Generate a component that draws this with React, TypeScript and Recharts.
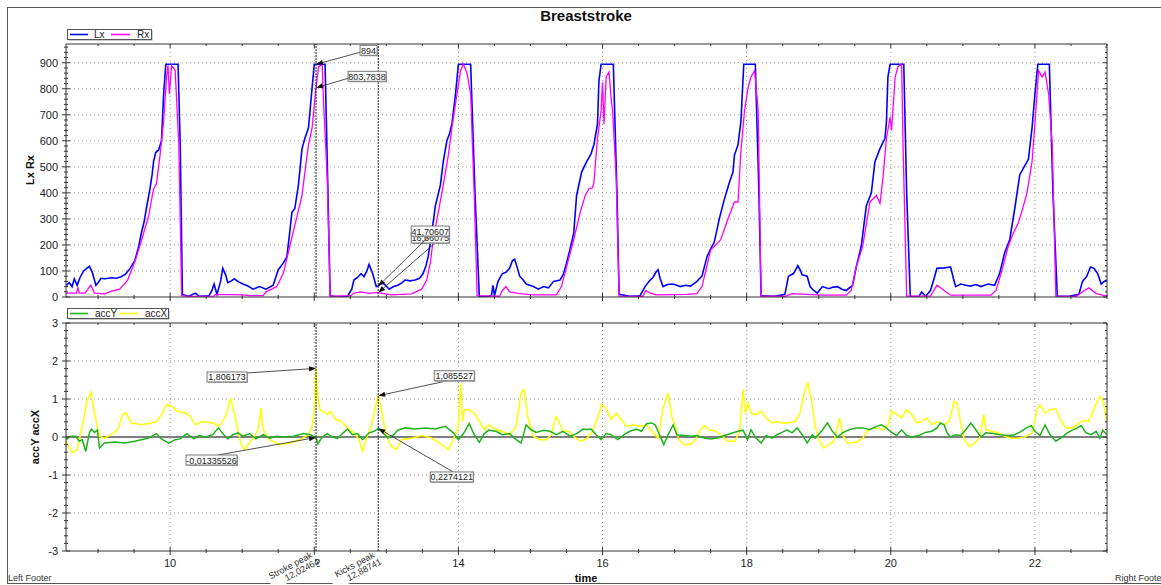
import React from 'react';
import { LineChart, Line, XAxis, YAxis, ReferenceLine, ReferenceDot } from 'recharts';

// time / value samples
const LX: [number, number][] = [
  [8.56, 45], [8.6, 55], [8.64, 40], [8.67, 70], [8.71, 45], [8.75, 75], [8.8, 100], [8.85, 112], [8.88, 118],
  [8.92, 95], [8.97, 45], [9.0, 55], [9.04, 72], [9.1, 70], [9.18, 74], [9.25, 72], [9.32, 78], [9.38, 88],
  [9.44, 108], [9.51, 140], [9.56, 190], [9.6, 245], [9.64, 290], [9.67, 340], [9.72, 415], [9.75, 470],
  [9.77, 520], [9.8, 555], [9.84, 565], [9.88, 600], [9.91, 780], [9.94, 894], [10.11, 894], [10.14, 585],
  [10.17, 10], [10.26, 3], [10.35, 15], [10.4, 3], [10.54, 5], [10.58, 25], [10.61, 50], [10.65, 10],
  [10.7, 60], [10.73, 110], [10.77, 85], [10.8, 55], [10.85, 62], [10.89, 70], [10.95, 58], [11.01, 50],
  [11.08, 42], [11.15, 30], [11.24, 40], [11.33, 30], [11.43, 45], [11.5, 105], [11.57, 130], [11.62, 155],
  [11.66, 250], [11.69, 325], [11.73, 340], [11.78, 430], [11.83, 570], [11.87, 610], [11.92, 650],
  [11.97, 805], [12.0, 894], [12.15, 894], [12.19, 400], [12.22, 5], [12.32, 0], [12.46, 2], [12.52, 30],
  [12.55, 65], [12.6, 75], [12.65, 90], [12.69, 78], [12.73, 100], [12.76, 125], [12.81, 90], [12.86, 40],
  [12.88741, 41.70607], [12.93, 55], [12.97, 50], [13.04, 30], [13.1, 40], [13.16, 45], [13.22, 55],
  [13.26, 65], [13.33, 62], [13.4, 65], [13.46, 72], [13.51, 90], [13.55, 120], [13.58, 155], [13.63, 245],
  [13.68, 350], [13.75, 430], [13.79, 520], [13.84, 600], [13.88, 630], [13.91, 665], [13.96, 780],
  [14.0, 894], [14.17, 894], [14.23, 400], [14.29, 3], [14.43, 2], [14.46, 8], [14.48, 45], [14.5, 5],
  [14.55, 60], [14.61, 90], [14.66, 95], [14.71, 110], [14.75, 140], [14.78, 145], [14.82, 110], [14.85, 80],
  [14.9, 65], [14.94, 50], [15.04, 40], [15.11, 30], [15.18, 40], [15.25, 35], [15.32, 60], [15.41, 65],
  [15.46, 90], [15.5, 130], [15.55, 185], [15.6, 245], [15.64, 390], [15.71, 480], [15.78, 520],
  [15.84, 550], [15.88, 585], [15.93, 665], [15.95, 830], [15.98, 894], [16.15, 894], [16.2, 400],
  [16.23, 10], [16.38, 3], [16.52, 5], [16.59, 40], [16.66, 65], [16.7, 75], [16.74, 95], [16.77, 105],
  [16.8, 70], [16.84, 40], [16.9, 48], [16.98, 50], [17.08, 40], [17.15, 45], [17.22, 42], [17.31, 60],
  [17.38, 80], [17.45, 155], [17.5, 185], [17.55, 210], [17.62, 300], [17.69, 375], [17.76, 440],
  [17.81, 480], [17.83, 545], [17.88, 585], [17.92, 675], [17.96, 894], [18.12, 894], [18.17, 400],
  [18.2, 5], [18.39, 3], [18.53, 10], [18.58, 80], [18.65, 90], [18.71, 120], [18.74, 105], [18.77, 85],
  [18.84, 80], [18.88, 40], [18.93, 25], [18.98, 15], [19.05, 40], [19.14, 32], [19.2, 38], [19.26, 40],
  [19.32, 30], [19.38, 25], [19.47, 45], [19.52, 115], [19.59, 195], [19.66, 350], [19.73, 400],
  [19.78, 520], [19.85, 570], [19.92, 610], [19.94, 675], [19.96, 845], [19.99, 894], [20.18, 894],
  [20.22, 400], [20.27, 3], [20.39, 2], [20.43, 20], [20.48, 2], [20.55, 25], [20.6, 70], [20.64, 110],
  [20.74, 112], [20.83, 115], [20.87, 70], [20.9, 40], [20.97, 50], [21.04, 45], [21.11, 42], [21.18, 48],
  [21.25, 40], [21.35, 50], [21.44, 45], [21.51, 90], [21.58, 170], [21.65, 220], [21.72, 340],
  [21.79, 470], [21.86, 505], [21.91, 530], [21.96, 650], [22.0, 780], [22.04, 894], [22.2, 894],
  [22.25, 400], [22.31, 3], [22.47, 3], [22.61, 10], [22.66, 60], [22.72, 80], [22.77, 115], [22.82, 110],
  [22.87, 90], [22.92, 50], [22.96, 60], [23.0, 65],
];

const RX: [number, number][] = [
  [8.56, 15], [8.7, 15], [8.72, 35], [8.74, 15], [8.82, 15], [8.87, 35], [8.9, 45], [8.95, 15], [9.09, 12],
  [9.18, 22], [9.3, 30], [9.41, 65], [9.51, 135], [9.6, 215], [9.7, 310], [9.77, 415], [9.81, 435],
  [9.86, 545], [9.91, 675], [9.95, 845], [9.97, 890], [9.99, 780], [10.02, 890], [10.07, 870], [10.12, 585],
  [10.16, 5], [10.26, 2], [10.61, 3], [10.63, 10], [11.01, 8], [11.1, 5], [11.29, 5], [11.33, 20],
  [11.48, 40], [11.57, 90], [11.66, 195], [11.76, 310], [11.83, 390], [11.87, 480], [11.92, 585],
  [11.97, 650], [12.02464, 803.7838], [12.06, 885], [12.11, 895], [12.13, 740], [12.18, 455], [12.22, 3],
  [12.51, 5], [12.55, 15], [12.65, 20], [12.74, 15], [12.88741, 16.66075], [13.07, 8], [13.35, 12],
  [13.49, 30], [13.56, 65], [13.61, 130], [13.65, 220], [13.72, 325], [13.79, 430], [13.86, 545],
  [13.91, 650], [13.98, 780], [14.03, 870], [14.07, 895], [14.12, 860], [14.17, 780], [14.22, 390],
  [14.26, 5], [14.57, 3], [14.61, 25], [14.66, 40], [14.71, 20], [14.85, 13], [15.04, 8], [15.36, 8],
  [15.43, 40], [15.5, 115], [15.6, 220], [15.69, 325], [15.76, 390], [15.81, 415], [15.86, 420],
  [15.88, 440], [15.93, 610], [15.98, 715], [16.0, 825], [16.02, 665], [16.05, 845], [16.09, 865],
  [16.12, 760], [16.14, 715], [16.19, 455], [16.23, 3], [16.56, 2], [16.6, 25], [16.66, 15], [16.75, 8],
  [17.17, 10], [17.31, 13], [17.38, 40], [17.5, 180], [17.64, 220], [17.74, 300], [17.83, 365],
  [17.88, 365], [17.92, 560], [17.97, 715], [18.02, 805], [18.06, 845], [18.11, 870], [18.16, 715],
  [18.2, 3], [18.53, 2], [18.63, 13], [19.05, 7], [19.38, 7], [19.45, 25], [19.52, 115], [19.61, 195],
  [19.71, 365], [19.8, 390], [19.85, 360], [19.89, 455], [19.94, 610], [19.99, 690], [20.01, 640],
  [20.06, 845], [20.1, 885], [20.15, 895], [20.17, 585], [20.22, 3], [20.55, 3], [20.64, 45], [20.74, 25],
  [20.83, 7], [21.39, 7], [21.46, 25], [21.53, 90], [21.63, 195], [21.7, 245], [21.77, 285], [21.84, 350],
  [21.89, 400], [21.96, 520], [22.0, 665], [22.05, 870], [22.1, 845], [22.14, 865], [22.19, 780],
  [22.24, 585], [22.29, 3], [22.57, 2], [22.66, 20], [22.75, 35], [22.85, 13], [23.0, 3],
];

const ACC_Y: [number, number][] = [
  [8.56, -0.07], [8.62, 0.02], [8.69, 0.02], [8.74, -0.11], [8.78, -0.07], [8.83, -0.38], [8.88, 0.11],
  [8.91, 0.21], [8.95, 0.12], [8.99, 0.18], [9.02, -0.29], [9.09, -0.16], [9.23, -0.13], [9.37, -0.16],
  [9.51, -0.11], [9.6, -0.07], [9.7, -0.03], [9.81, 0.09], [9.88, -0.05], [9.98, -0.16], [10.07, -0.07],
  [10.14, -0.05], [10.23, 0.09], [10.33, -0.05], [10.4, 0.04], [10.49, 0], [10.59, 0.06], [10.67, 0.24],
  [10.73, 0.09], [10.8, -0.05], [10.87, 0.06], [10.94, 0.11], [11.01, 0.02], [11.1, 0.09], [11.19, -0.05],
  [11.29, 0.06], [11.38, -0.03], [11.48, 0.02], [11.57, 0], [11.71, 0.02], [11.85, 0.09], [11.95, 0.06],
  [12.02464, -0.01335526], [12.05, -0.18], [12.11, 0], [12.18, 0.09], [12.25, 0], [12.32, -0.04],
  [12.39, 0.09], [12.46, 0.21], [12.53, 0.06], [12.6, 0.09], [12.67, -0.07], [12.76, 0.11], [12.83, 0.15],
  [12.88741, 0.2274121], [12.95, 0.12], [13.02, -0.03], [13.09, 0.04], [13.16, 0.18], [13.26, 0.24],
  [13.4, 0.21], [13.54, 0.24], [13.68, 0.21], [13.82, 0.28], [13.93, 0.11], [14.0, -0.07], [14.07, 0.09],
  [14.15, 0.35], [14.22, 0.06], [14.29, -0.14], [14.36, 0.09], [14.42, 0.18], [14.52, 0.15], [14.61, 0.06],
  [14.71, 0.09], [14.8, -0.07], [14.87, -0.16], [14.94, 0.32], [15.01, 0.19], [15.08, 0.12], [15.18, 0.18],
  [15.27, 0.15], [15.36, 0.06], [15.45, 0.15], [15.55, 0.02], [15.64, 0.09], [15.73, 0.21], [15.78, 0.2],
  [15.84, 0.21], [15.91, 0.06], [15.98, -0.07], [16.05, 0.09], [16.12, 0.06], [16.21, -0.07], [16.3, 0.06],
  [16.38, 0.15], [16.47, 0.21], [16.54, 0.15], [16.61, 0.35], [16.68, 0.37], [16.73, 0.32], [16.77, 0.15],
  [16.82, -0.07], [16.85, -0.2], [16.91, 0.06], [16.98, 0.32], [17.03, 0.06], [17.13, 0.04], [17.22, 0.02],
  [17.31, 0.04], [17.41, -0.03], [17.5, -0.05], [17.59, -0.03], [17.69, 0.04], [17.78, 0.09], [17.88, 0.15],
  [17.95, 0.18], [18.01, -0.07], [18.06, 0.19], [18.13, -0.03], [18.2, -0.16], [18.27, 0.04], [18.35, -0.03],
  [18.42, 0.06], [18.49, 0.12], [18.56, 0.19], [18.63, 0.11], [18.7, 0.24], [18.77, 0.06], [18.84, -0.16],
  [18.91, 0.06], [18.95, -0.03], [19.05, 0.18], [19.12, 0.37], [19.19, 0.15], [19.26, 0], [19.33, 0.11],
  [19.42, 0.19], [19.52, 0.24], [19.61, 0.24], [19.71, 0.19], [19.8, 0.28], [19.87, 0.32], [19.94, 0.24],
  [20.01, 0.12], [20.08, 0.04], [20.15, 0.19], [20.22, 0.04], [20.29, 0], [20.39, 0.04], [20.48, 0.12],
  [20.57, 0.15], [20.64, 0.24], [20.69, 0.37], [20.74, 0.32], [20.78, 0.11], [20.83, 0], [20.9, 0.06],
  [20.97, 0.04], [21.04, 0.19], [21.11, 0.37], [21.18, 0.19], [21.25, 0], [21.32, 0.11], [21.42, 0.09],
  [21.51, 0.06], [21.63, 0.04], [21.72, 0.06], [21.81, 0.15], [21.88, 0.24], [21.95, 0.3], [22.0, 0.15],
  [22.07, 0.04], [22.14, 0.32], [22.21, 0.06], [22.29, -0.11], [22.38, 0], [22.45, 0.11], [22.52, 0.18],
  [22.59, 0.24], [22.64, 0.3], [22.71, 0.11], [22.78, 0.06], [22.85, 0.15], [22.9, -0.03], [22.94, 0.18],
  [23.0, 0.06],
];

const ACC_X: [number, number][] = [
  [8.56, -0.12], [8.64, -0.42], [8.71, -0.33], [8.78, 0.28], [8.85, 0.98], [8.9, 1.18], [8.95, 0.63],
  [9.02, 0.02], [9.09, -0.03], [9.18, 0.06], [9.27, 0.19], [9.34, 0.59], [9.39, 0.63], [9.46, 0.37],
  [9.6, 0.32], [9.74, 0.37], [9.81, 0.41], [9.88, 0.59], [9.95, 0.85], [10.02, 0.81], [10.09, 0.68],
  [10.21, 0.63], [10.28, 0.54], [10.35, 0.32], [10.44, 0.41], [10.59, 0.37], [10.68, 0.28], [10.77, 0.54],
  [10.84, 1.03], [10.91, 0.46], [10.98, -0.16], [11.03, -0.33], [11.1, -0.16], [11.17, 0.02], [11.22, 0.19],
  [11.26, 0.76], [11.29, 0.19], [11.38, -0.07], [11.52, -0.2], [11.66, -0.16], [11.8, -0.07], [11.92, 0.06],
  [11.97, 0.28], [12.0, 0.72], [12.02464, 1.806173], [12.04, 1.16], [12.08, 0.72], [12.18, 0.59],
  [12.22, 0.68], [12.3, 0.46], [12.37, 0.41], [12.46, 0.24], [12.55, 0.11], [12.62, -0.07], [12.67, -0.38],
  [12.72, -0.07], [12.79, 0.28], [12.86, 0.89], [12.88741, 1.085527], [12.93, 0.72], [13.0, 0.02],
  [13.07, -0.25], [13.14, -0.33], [13.21, -0.07], [13.35, -0.03], [13.49, 0.04], [13.63, -0.03],
  [13.77, -0.2], [13.86, -0.33], [13.93, -0.07], [14.0, 0.28], [14.03, 1.42], [14.06, 0.41], [14.08, 0.72],
  [14.15, 0.72], [14.22, 0.63], [14.29, 0.41], [14.36, 0.19], [14.42, 0.32], [14.52, 0.19], [14.61, 0.15],
  [14.71, 0.06], [14.8, 0.28], [14.87, 1.16], [14.91, 1.25], [14.96, 0.54], [15.04, 0.02], [15.13, -0.07],
  [15.22, -0.07], [15.29, 0.06], [15.35, 0.54], [15.38, 0.46], [15.45, 0.15], [15.53, 0.15], [15.6, 0.02],
  [15.69, -0.11], [15.78, -0.05], [15.86, 0.15], [15.93, 0.5], [15.99, 0.85], [16.05, 0.76], [16.12, 0.46],
  [16.19, 0.63], [16.26, 0.46], [16.33, 0.28], [16.42, 0.32], [16.52, 0.28], [16.61, 0.32], [16.7, 0.11],
  [16.77, -0.03], [16.84, 0.76], [16.91, 1.16], [16.96, 0.54], [17.01, 0.28], [17.06, -0.07], [17.13, -0.2],
  [17.22, -0.2], [17.29, -0.07], [17.36, 0.19], [17.41, 0.3], [17.48, 0.19], [17.57, 0.15], [17.64, 0.06],
  [17.74, -0.11], [17.83, -0.11], [17.9, 0.11], [17.95, 1.25], [17.98, 0.63], [18.02, 0.89], [18.06, 0.63],
  [18.13, 0.59], [18.2, 0.68], [18.27, 0.5], [18.35, 0.37], [18.42, 0.41], [18.49, 0.37], [18.58, 0.37],
  [18.67, 0.41], [18.74, 0.63], [18.81, 1.25], [18.85, 1.42], [18.9, 0.98], [18.95, 0.28], [19.0, -0.07],
  [19.07, -0.29], [19.14, -0.2], [19.21, -0.11], [19.26, 0.28], [19.29, 0.5], [19.33, 0.06], [19.4, -0.16],
  [19.52, -0.14], [19.61, -0.03], [19.68, 0.19], [19.8, 0.24], [19.89, 0.19], [19.96, 0.32], [20.01, 0.68],
  [20.08, 0.59], [20.15, 0.5], [20.22, 0.72], [20.29, 0.59], [20.36, 0.37], [20.43, 0.41], [20.5, 0.5],
  [20.57, 0.32], [20.64, 0.41], [20.74, 0.32], [20.81, 0.41], [20.88, 0.94], [20.92, 0.89], [20.97, 0.37],
  [21.02, -0.07], [21.09, -0.25], [21.16, -0.16], [21.23, -0.03], [21.29, 0.59], [21.32, 0.19], [21.39, 0.15],
  [21.49, 0.11], [21.58, 0.02], [21.67, -0.03], [21.76, -0.03], [21.86, 0], [21.96, 0.11], [22.03, 0.72],
  [22.07, 0.85], [22.14, 0.63], [22.21, 0.72], [22.29, 0.74], [22.36, 0.41], [22.43, 0.24], [22.52, 0.24],
  [22.61, 0.37], [22.68, 0.43], [22.75, 0.41], [22.82, 0.76], [22.9, 1.07], [22.94, 0.98], [23.0, 0.41],
];

const X_DOMAIN: [number, number] = [8.555, 23];
const X_MAJOR = [10, 12, 14, 16, 18, 20, 22];
const X_TICKS = [9, 9.5, 10, 10.5, 11, 11.5, 12, 12.5, 13, 13.5, 14, 14.5, 15, 15.5, 16, 16.5, 17, 17.5, 18, 18.5, 19, 19.5, 20, 20.5, 21, 21.5, 22, 22.5, 23];

const LR_DOMAIN: [number, number] = [0, 972];
const LR_MAJOR = [0, 100, 200, 300, 400, 500, 600, 700, 800, 900];
const LR_TICKS = Array.from({ length: 49 }, (_, i) => i * 20);

const ACC_DOMAIN: [number, number] = [-3, 3];
const ACC_MAJOR = [-3, -2, -1, 0, 1, 2, 3];
const ACC_TICKS = Array.from({ length: 31 }, (_, i) => Math.round((-3 + i * 0.2) * 10) / 10);

const MARKERS = [
  { t: 12.02464, name: 'Stroke peak', label: '12,02464' },
  { t: 12.88741, name: 'Kicks peak', label: '12,88741' },
];

const LR_CALLOUTS = [
  { t: 12.02464, v: 894, text: '894' },
  { t: 12.02464, v: 803.7838, text: '803,7838' },
  { t: 12.88741, v: 16.66075, text: '16,66075' },
  { t: 12.88741, v: 41.70607, text: '41,70607' },
];

const ACC_CALLOUTS = [
  { t: 12.02464, v: 1.806173, text: '1,806173' },
  { t: 12.02464, v: -0.01335526, text: '-0,01335526' },
  { t: 12.88741, v: 1.085527, text: '1,085527' },
  { t: 12.88741, v: 0.2274121, text: '0,2274121' },
];

// box placement relative to the pointed value, in px
const LR_BOXES = [
  { bx: 44, by: -19, w: 17, sx: 44, sy: -12 },
  { bx: 32, by: -16.5, w: 38, sx: 32, sy: -9.5 },
  { bx: 33, by: -59.7, w: 38, sx: 58, sy: -50.7 },
  { bx: 33, by: -60.1, w: 38, sx: 52, sy: -51 },
];
const ACC_BOXES = [
  { bx: -109, by: 3.6, w: 40, sx: -69, sy: 4.6 },
  { bx: -130, by: 17.5, w: 51, sx: -98, sy: 17.5 },
  { bx: 56, by: -25, w: 40, sx: 74, sy: -16 },
  { bx: 52, by: 43.6, w: 43, sx: 75, sy: 43.6 },
];

const toRows = (arr: [number, number][]) => arr.map(([t, v]) => ({ t, v }));

const FONT = '"Liberation Sans", Arial, sans-serif';
const AXIS = '#333';

const isMajor = (v: number, majors: number[]) => majors.some((m) => Math.abs(m - v) < 1e-6);

function makeTick(side: string, majors: number[], labels: boolean) {
  return (p: any) => {
    const { x, y, payload } = p;
    const v = payload.value;
    const major = isMajor(v, majors);
    const s = major ? 4 : 2;
    let line = null;
    let txt = null;
    if (side === 'left') {
      line = <line x1={x - s} x2={x + s} y1={y} y2={y} stroke={AXIS} />;
      if (labels && major)
        txt = <text x={x - 8} y={y + 4} textAnchor="end" fontSize={11} fill="#222" fontFamily={FONT}>{v}</text>;
    } else if (side === 'right') {
      line = <line x1={x - s} x2={x} y1={y} y2={y} stroke={AXIS} />;
    } else if (side === 'top') {
      line = <line x1={x} x2={x} y1={y} y2={y + s} stroke={AXIS} />;
    } else {
      line = <line x1={x} x2={x} y1={y - s} y2={y + s} stroke={AXIS} />;
      if (labels && major)
        txt = <text x={x} y={y + 16} textAnchor="middle" fontSize={11} fill="#222" fontFamily={FONT}>{v}</text>;
    }
    return <g>{line}{txt}</g>;
  };
}

function calloutShape(text: string, box: any) {
  return (p: any) => {
    const { cx, cy } = p;
    if (cx == null || cy == null) return <g />;
    const x0 = cx + box.bx;
    const y0 = cy + box.by;
    const sx = cx + box.sx;
    const sy = cy + box.sy;
    const ang = Math.atan2(cy - sy, cx - sx);
    const L = 7;
    const W = 2.6;
    const bx = cx - L * Math.cos(ang);
    const by = cy - L * Math.sin(ang);
    const p1 = [bx + W * Math.sin(ang), by - W * Math.cos(ang)];
    const p2 = [bx - W * Math.sin(ang), by + W * Math.cos(ang)];
    return (
      <g>
        <line x1={sx} y1={sy} x2={bx} y2={by} stroke="#222" strokeWidth={0.8} />
        <polygon points={`${cx},${cy} ${p1[0]},${p1[1]} ${p2[0]},${p2[1]}`} fill="#111" />
        <rect x={x0 + 1} y={y0 + 1} width={box.w} height={10} fill="#aaa" />
        <rect x={x0} y={y0} width={box.w} height={10} fill="#fff" stroke="#777" strokeWidth={1} />
        <text x={x0 + box.w / 2} y={y0 + 8.5} textAnchor="middle" fontSize={9} fill="#222" fontFamily={FONT}>
          {text}
        </text>
      </g>
    );
  };
}

function MarkerLabel({ viewBox, name, value }: any) {
  if (!viewBox) return null;
  const x = viewBox.x;
  const y = viewBox.y + viewBox.height;
  return (
    <g transform={`translate(${x - 3}, ${y + 6}) rotate(-28)`} fontFamily={FONT} fontSize={9} fill="#333">
      <rect x={-50} y={-6} width={49} height={17} fill="#fff" />
      <text x={0} y={0} textAnchor="end">{name}</text>
      <text x={3} y={9} textAnchor="end">{value}</text>
    </g>
  );
}

// axes need a size of at least 1px or recharts skips drawing them
function Axes({ majors, ticks, domain, xLabels }: any) {
  return [
    <XAxis key="xb" xAxisId="b" type="number" dataKey="t" domain={X_DOMAIN} allowDataOverflow ticks={X_TICKS}
      interval={0} height={1} tickSize={0} tickMargin={0} tickLine={false} axisLine={{ stroke: AXIS }}
      tick={makeTick('bottom', X_MAJOR, xLabels)} />,
    <XAxis key="xt" xAxisId="t" orientation="top" type="number" dataKey="t" domain={X_DOMAIN} allowDataOverflow
      ticks={X_TICKS} interval={0} height={1} tickSize={0} tickMargin={0} tickLine={false}
      axisLine={{ stroke: AXIS }} tick={makeTick('top', X_MAJOR, false)} />,
    <YAxis key="yl" yAxisId="l" type="number" domain={domain} allowDataOverflow ticks={ticks} interval={0}
      width={1} tickSize={0} tickMargin={0} tickLine={false} axisLine={{ stroke: AXIS }}
      tick={makeTick('left', majors, true)} />,
    <YAxis key="yr" yAxisId="r" orientation="right" type="number" domain={domain} allowDataOverflow ticks={ticks}
      interval={0} width={1} tickSize={0} tickMargin={0} tickLine={false} axisLine={{ stroke: AXIS }}
      tick={makeTick('right', majors, false)} />,
  ];
}

function gridLines(yValues: number[]) {
  return [
    ...X_MAJOR.map((t) => (
      <ReferenceLine key={`gx${t}`} xAxisId="b" yAxisId="l" x={t} stroke="#999" strokeDasharray="1 3" />
    )),
    ...yValues.map((v) => (
      <ReferenceLine key={`gy${v}`} xAxisId="b" yAxisId="l" y={v} stroke="#999" strokeDasharray="1 3" />
    )),
  ];
}

export default function App() {
  const lx = toRows(LX);
  const rx = toRows(RX);
  const ay = toRows(ACC_Y);
  const ax = toRows(ACC_X);

  return (
    <div style={{ position: 'fixed', left: 0, top: 0, width: 1161, height: 585, background: '#fff', overflow: 'hidden', fontFamily: FONT }}>
      <svg width={1161} height={585} style={{ position: 'absolute', left: 0, top: 0 }}>
        <rect x={7.5} y={7.5} width={1170} height={576} fill="none" stroke="#555" />
        <text x={586} y={21} textAnchor="middle" fontSize={15} fontWeight="bold" fill="#111">Breaststroke</text>
      </svg>

      {/* upper panel: Lx / Rx */}
      <div style={{ position: 'absolute', left: 0, top: 0 }}>
        <LineChart width={1161} height={310} margin={{ top: 43, right: 53, bottom: 12, left: 65 }}>
          {Axes({ majors: LR_MAJOR, ticks: LR_TICKS, domain: LR_DOMAIN, xLabels: false })}
          {gridLines([100, 200, 300, 400, 500, 600, 700, 800, 900])}
          <Line xAxisId="b" yAxisId="l" data={lx} dataKey="v" type="linear" stroke="#0000ff" strokeWidth={1.6}
            dot={false} isAnimationActive={false} />
          <Line xAxisId="b" yAxisId="l" data={rx} dataKey="v" type="linear" stroke="#ff00ff" strokeWidth={1.3}
            dot={false} isAnimationActive={false} />
          {MARKERS.map((m) => (
            <ReferenceLine key={m.name} xAxisId="b" yAxisId="l" x={m.t} stroke="#222" strokeDasharray="2 1" />
          ))}
          {LR_CALLOUTS.map((c, i) => (
            <ReferenceDot key={c.text} xAxisId="b" yAxisId="l" x={c.t} y={c.v} r={0}
              shape={calloutShape(c.text, LR_BOXES[i])} />
          ))}
        </LineChart>
      </div>

      {/* lower panel: accY / accX */}
      <div style={{ position: 'absolute', left: 0, top: 0 }}>
        <LineChart width={1161} height={585} margin={{ top: 322, right: 53, bottom: 33, left: 65 }}>
          {Axes({ majors: ACC_MAJOR, ticks: ACC_TICKS, domain: ACC_DOMAIN, xLabels: true })}
          {gridLines([-2, -1, 1, 2])}
          <ReferenceLine xAxisId="b" yAxisId="l" y={0} stroke="#555" strokeWidth={1.5} />
          <Line xAxisId="b" yAxisId="l" data={ax} dataKey="v" type="linear" stroke="#ffff00" strokeWidth={1.5}
            dot={false} isAnimationActive={false} />
          <Line xAxisId="b" yAxisId="l" data={ay} dataKey="v" type="linear" stroke="#1db31d" strokeWidth={1.5}
            dot={false} isAnimationActive={false} />
          {MARKERS.map((m) => (
            <ReferenceLine key={m.name} xAxisId="b" yAxisId="l" x={m.t} stroke="#222" strokeDasharray="2 1" />
          ))}
          {ACC_CALLOUTS.map((c, i) => (
            <ReferenceDot key={c.text} xAxisId="b" yAxisId="l" x={c.t} y={c.v} r={0}
              shape={calloutShape(c.text, ACC_BOXES[i])} />
          ))}
        </LineChart>
      </div>

      {/* marker captions, drawn above the tick labels they partly cover */}
      <div style={{ position: 'absolute', left: 0, top: 0 }}>
        <LineChart width={1161} height={585} margin={{ top: 323, right: 54, bottom: 34, left: 66 }}>
          <XAxis xAxisId="b" type="number" dataKey="t" domain={X_DOMAIN} allowDataOverflow hide />
          <YAxis yAxisId="l" type="number" domain={ACC_DOMAIN} allowDataOverflow hide />
          {MARKERS.map((m) => (
            <ReferenceLine key={m.name} xAxisId="b" yAxisId="l" x={m.t} stroke="none"
              label={<MarkerLabel name={m.name} value={m.label} />} />
          ))}
        </LineChart>
      </div>

      <svg width={1161} height={585} style={{ position: 'absolute', left: 0, top: 0, pointerEvents: 'none' }}>
        {/* legends */}
        <rect x={68.5} y={30.5} width={84} height={10} fill="#999" />
        <rect x={67.5} y={29.5} width={84} height={10} fill="#fff" stroke="#555" />
        <line x1={70} x2={88} y1={34.5} y2={34.5} stroke="#0000ff" strokeWidth={1.6} />
        <text x={94} y={38} fontSize={10} fill="#222">Lx</text>
        <line x1={111} x2={130} y1={34.5} y2={34.5} stroke="#ff00ff" strokeWidth={1.6} />
        <text x={137} y={38} fontSize={10} fill="#222">Rx</text>

        <rect x={68.5} y={309.5} width={101} height={10} fill="#999" />
        <rect x={67.5} y={308.5} width={101} height={10} fill="#fff" stroke="#555" />
        <line x1={70} x2={88} y1={313.5} y2={313.5} stroke="#1db31d" strokeWidth={1.6} />
        <text x={95} y={317} fontSize={10} fill="#222">accY</text>
        <line x1={119} x2={138} y1={313.5} y2={313.5} stroke="#ffff00" strokeWidth={1.6} />
        <text x={145} y={317} fontSize={10} fill="#222">accX</text>

        {/* axis titles and footers */}
        <text transform="translate(34, 170) rotate(-90)" textAnchor="middle" fontSize={11} fontWeight="bold" fill="#111">Lx Rx</text>
        <text transform="translate(39, 437) rotate(-90)" textAnchor="middle" fontSize={11} fontWeight="bold" fill="#111">accY accX</text>
        <text x={586} y={582} textAnchor="middle" fontSize={11} fontWeight="bold" fill="#111">time</text>
        <text x={8} y={581} fontSize={9} fill="#333">Left Footer</text>
        <text x={1115} y={581} fontSize={9} fill="#333">Right Foote</text>
      </svg>
    </div>
  );
}
